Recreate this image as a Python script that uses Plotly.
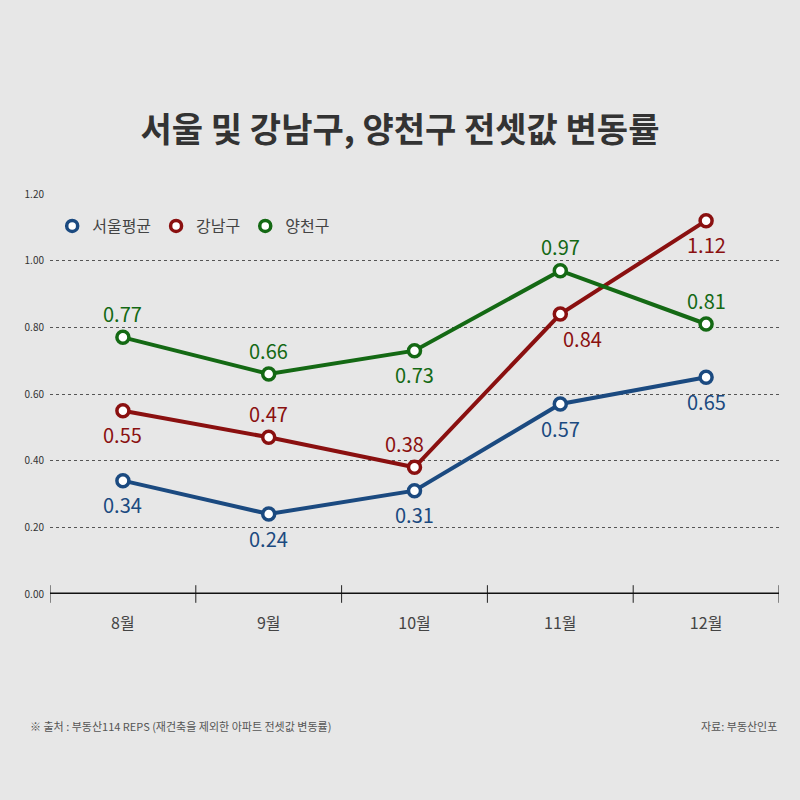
import plotly.graph_objects as go

months = ["8월", "9월", "10월", "11월", "12월"]
seoul = [0.34, 0.24, 0.31, 0.57, 0.65]
gangnam = [0.55, 0.47, 0.38, 0.84, 1.12]
yangcheon = [0.77, 0.66, 0.73, 0.97, 0.81]
series_names = ["서울평균", "강남구", "양천구"]
y_ticks = [0.0, 0.2, 0.4, 0.6, 0.8, 1.0, 1.2]

colors = ["#1b4a80", "#8a1010", "#146914"]
# label placement: +1 above, -1 below; horizontal nudges in px
label_side = [
    [-1, -1, -1, -1, -1],
    [-1, 1, 1, -1, -1],
    [1, 1, -1, 1, 1],
]
label_dx = [
    [0, 0, 0, 0, 0],
    [0, 0, -10, 22, 0],
    [0, 0, 0, 0, 0],
]
FONT = "Noto Sans CJK KR"

fig = go.Figure()
for name, vals, col, sides, dxs in zip(series_names, [seoul, gangnam, yangcheon], colors, label_side, label_dx):
    fig.add_trace(go.Scatter(
        x=months, y=vals, mode="lines+markers", name=name, showlegend=False,
        line=dict(color=col, width=4),
        marker=dict(size=12, color="white", line=dict(color=col, width=3.5)),
        cliponaxis=False,
    ))
    fig.add_trace(go.Scatter(
        x=[None], y=[None], mode="markers", name=name,
        marker=dict(size=11, color="white", line=dict(color=col, width=3.5)),
    ))
    for m, v, s, dx in zip(months, vals, sides, dxs):
        fig.add_annotation(x=m, y=v, text=f"{v:.2f}", showarrow=False,
                           yshift=24 * s, xshift=dx, xanchor="center", yanchor="middle",
                           font=dict(size=20, color=col, family=FONT))

# boundary tick marks on x axis
for i in range(len(months) + 1):
    fig.add_shape(type="line", xref="x", yref="paper", x0=i - 0.5, x1=i - 0.5,
                  y0=-0.022, y1=0.022, line=dict(color="#222", width=1))
fig.add_shape(type="line", xref="x", yref="y", x0=-0.5, x1=len(months) - 0.5,
              y0=0, y1=0, line=dict(color="#111", width=3))

fig.update_layout(
    width=800, height=800,
    margin=dict(l=50, r=21, t=194, b=206),
    paper_bgcolor="#e7e7e7", plot_bgcolor="rgba(0,0,0,0)",
    font=dict(family=FONT, color="#333"),
    title=dict(text="<b>서울 및 강남구, 양천구 전셋값 변동률</b>", x=0.5, xanchor="center",
               y=1 - 130 / 800, yref="container", yanchor="middle",
               font=dict(size=34, color="#333", family=FONT)),
    legend=dict(orientation="h", x=0.003, y=0.92, xanchor="left", yanchor="middle",
                bgcolor="rgba(0,0,0,0)", font=dict(size=16, color="#444", family=FONT),
                itemwidth=30, tracegroupgap=0),
    showlegend=True,
)
fig.update_xaxes(type="category", range=[-0.5, len(months) - 0.5], showgrid=False,
                 showline=False, ticks="", ticklabelstandoff=18,
                 tickfont=dict(size=16, color="#444", family=FONT), zeroline=False)
fig.update_yaxes(range=[0, 1.2], tickvals=y_ticks, ticktext=[f"{v:.2f}" for v in y_ticks],
                 showgrid=True, gridcolor="#555", griddash="dot", gridwidth=1,
                 zeroline=False, showline=False, ticks="", ticklabelstandoff=5,
                 tickfont=dict(size=10, color="#333", family=FONT))

fig.add_annotation(text="※ 출처 : 부동산114 REPS (재건축을 제외한 아파트 전셋값 변동률)",
                   xref="paper", yref="paper", x=-0.03, y=-0.33, xanchor="left", yanchor="middle",
                   showarrow=False, font=dict(size=11, color="#555", family=FONT))
fig.add_annotation(text="자료: 부동산인포",
                   xref="paper", yref="paper", x=1.0, y=-0.33, xanchor="right", yanchor="middle",
                   showarrow=False, font=dict(size=11, color="#555", family=FONT))

fig.write_html("out.html")
